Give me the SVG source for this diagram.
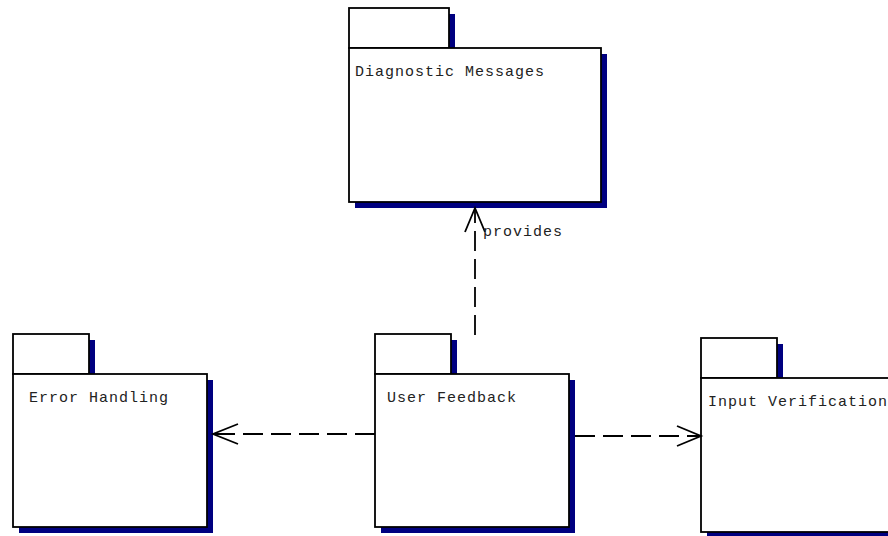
<svg xmlns="http://www.w3.org/2000/svg" width="888" height="536" viewBox="0 0 888 536">
<style>
.sh{fill:#000080;stroke:none}
.bx{fill:#fff;stroke:#000;stroke-width:1.8}
.lb{font-family:"Liberation Mono","Courier New",monospace;font-size:15px;letter-spacing:1px;fill:#222}
.cn{fill:none;stroke:#000;stroke-width:1.8;stroke-dasharray:20 8}
.ah{fill:none;stroke:#000;stroke-width:1.8}
</style>
<rect width="888" height="536" fill="#fff"/>
<g id="diagnostic-messages">
<rect class="sh" x="355" y="14" width="100" height="40"/>
<rect class="sh" x="355" y="54" width="252" height="154"/>
<rect class="bx" x="349" y="8" width="100" height="40"/>
<rect class="bx" x="349" y="48" width="252" height="154"/>
<text class="lb" x="355" y="76">Diagnostic Messages</text>
</g>
<g id="error-handling">
<rect class="sh" x="19" y="340" width="76" height="40"/>
<rect class="sh" x="19" y="380" width="194" height="153"/>
<rect class="bx" x="13" y="334" width="76" height="40"/>
<rect class="bx" x="13" y="374" width="194" height="153"/>
<text class="lb" x="29" y="402">Error Handling</text>
</g>
<g id="user-feedback">
<rect class="sh" x="381" y="340" width="76" height="40"/>
<rect class="sh" x="381" y="380" width="194" height="153"/>
<rect class="bx" x="375" y="334" width="76" height="40"/>
<rect class="bx" x="375" y="374" width="194" height="153"/>
<text class="lb" x="387" y="402">User Feedback</text>
</g>
<g id="input-verification">
<rect class="sh" x="707" y="344" width="76" height="40"/>
<rect class="sh" x="707" y="384" width="200" height="154"/>
<rect class="bx" x="701" y="338" width="76" height="40"/>
<rect class="bx" x="701" y="378" width="200" height="154"/>
<text class="lb" x="708" y="406">Input Verification</text>
</g>
<g id="connectors">
<line class="cn" x1="475" y1="335" x2="475" y2="209"/>
<polyline class="ah" points="465,232 475,208 485,232"/>
<text class="lb" x="483" y="236">provides</text>
<line class="cn" x1="375" y1="434" x2="214" y2="434"/>
<polyline class="ah" points="238,424 213,434 238,444"/>
<line class="cn" x1="575" y1="436" x2="699" y2="436"/>
<polyline class="ah" points="677,426 701,436 677,446"/>
</g>
</svg>
